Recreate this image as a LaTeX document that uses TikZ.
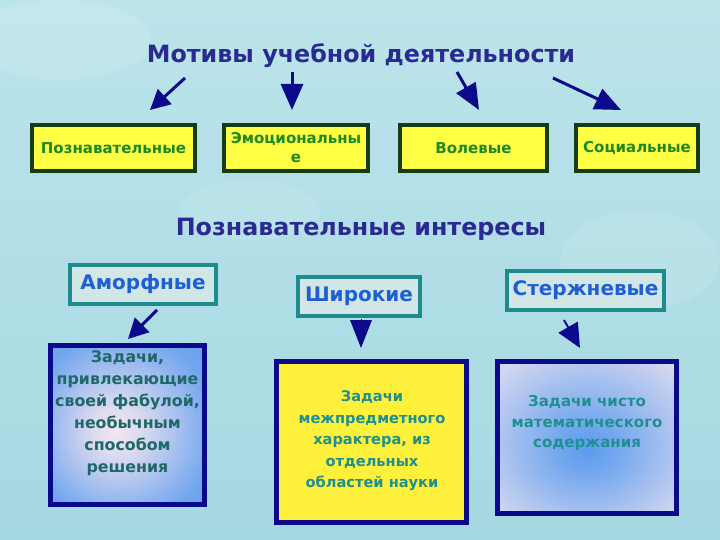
\documentclass[tikz,border=0pt]{standalone}
\usepackage{fontspec}
\setmainfont{DejaVu Sans}
\usetikzlibrary{arrows.meta}
\definecolor{bgc}{HTML}{A6D8E1}
\definecolor{bgl}{HTML}{BCE4EB}
\definecolor{navy}{HTML}{0A0A8A}
\definecolor{titlec}{HTML}{2A2A92}
\definecolor{yel}{HTML}{FFFF44}
\definecolor{yel2}{HTML}{FFF03C}
\definecolor{dgreen}{HTML}{163C16}
\definecolor{tgreen}{HTML}{1E8A1E}
\definecolor{tealb}{HTML}{1E8C8C}
\definecolor{tealfill}{HTML}{D2E6E5}
\definecolor{lblue}{HTML}{1E5FD6}
\definecolor{dteal}{HTML}{1F6868}
\definecolor{mteal}{HTML}{1E9090}
\definecolor{skyb}{HTML}{5C9BEE}
\definecolor{pinkw}{HTML}{F2E6F0}
\pgfdeclareradialshading{boxone}{\pgfpoint{-4bp}{-2bp}}{color(0bp)=(pinkw); color(8bp)=(pinkw!85!skyb); color(30bp)=(skyb!85!pinkw); color(42bp)=(skyb); color(60bp)=(skyb)}
\pgfdeclareradialshading{boxthree}{\pgfpoint{0bp}{-4bp}}{color(0bp)=(skyb); color(8bp)=(skyb!85!pinkw); color(30bp)=(pinkw!70!skyb); color(42bp)=(pinkw); color(60bp)=(pinkw)}
\tikzset{
  motbox/.style={draw=dgreen, line width=4pt, fill=yel, inner sep=2pt, minimum height=46pt, align=center, text=tgreen, font=\fontsize{15}{19}\selectfont\bfseries},
  intbox/.style={draw=tealb, line width=4pt, fill=tealfill, inner sep=2pt, minimum height=39pt, text=lblue, font=\fontsize{20}{22}\selectfont\bfseries},
  taskbox/.style={draw=navy, line width=5pt, inner sep=2pt},
  tasktext/.style={align=center, inner sep=0pt, font=\bfseries},
  heading/.style={text=titlec, font=\fontsize{23.8}{26}\selectfont\bfseries},
  arr/.style={draw=navy, line width=3pt, -{Triangle[length=20pt,width=20pt]}},
  bigarr/.style={draw=navy, line width=3pt, -{Triangle[length=26pt,width=22pt]}}
}
\begin{document}
\begin{tikzpicture}[x=1pt,y=-1pt]
\useasboundingbox (0,0) rectangle (720,540);
\shade[top color=bgl, bottom color=bgc] (0,0) rectangle (720,540);
\fill[white, opacity=0.12] (60,40) ellipse (90 and 40);
\fill[white, opacity=0.10] (640,260) ellipse (80 and 50);
\fill[white, opacity=0.10] (250,210) ellipse (70 and 30);

\node[heading] (title) at (361,56) {Мотивы учебной деятельности};

\node[motbox, minimum width=163pt] (m1) at (113.5,148) {Познавательные};
\node[motbox, minimum width=144pt, text width=138pt] (m2) at (296,148) {Эмоциональны\\е};
\node[motbox, minimum width=147pt] (m3) at (473.5,148) {Волевые};
\node[motbox, minimum width=122pt] (m4) at (637,148) {Социальные};

\coordinate (a1s) at (185,78); \coordinate (a1e) at (150,110);
\coordinate (a2s) at (292,72); \coordinate (a2e) at (292,110);
\coordinate (a3s) at (457,72); \coordinate (a3e) at (479,110);
\coordinate (a4s) at (553,78); \coordinate (a4e) at (621,110);
\draw[arr] (a1s) -- (a1e);
\draw[bigarr] (a2s) -- (a2e);
\draw[bigarr] (a3s) -- (a3e);
\draw[bigarr] (a4s) -- (a4e);

\node[heading] (interest) at (361,229) {Познавательные интересы};

\node[intbox, minimum width=146pt] (i1) at (143,284) {Аморфные};
\node[intbox, minimum width=122pt] (i2) at (359,296.5) {Широкие};
\node[intbox, minimum width=157pt] (i3) at (585.5,290) {Стержневые};

\node[taskbox, minimum width=154pt, minimum height=159pt, shading=boxone] (t1) at (127.5,425) {};
\node[tasktext, text=dteal, font=\fontsize{15.8}{22}\selectfont\bfseries] (t1text) at (127.5,413) {Задачи,\\привлекающие\\своей фабулой,\\необычным\\способом\\решения};
\node[taskbox, minimum width=190pt, minimum height=161pt, fill=yel2] (t2) at (371.5,442) {};
\node[tasktext, text=mteal, font=\fontsize{14.6}{21.5}\selectfont\bfseries] (t2text) at (372,441) {Задачи\\межпредметного\\характера, из\\отдельных\\областей науки};
\node[taskbox, minimum width=179pt, minimum height=152pt, shading=boxthree] (t3) at (587,437.5) {};
\node[tasktext, text=mteal, font=\fontsize{15}{20.5}\selectfont\bfseries] (t3text) at (587,423) {Задачи чисто\\математического\\содержания};

\coordinate (b1s) at (157,310); \coordinate (b1e) at (128,339);
\coordinate (b2s) at (361,319); \coordinate (b2e) at (361,348);
\coordinate (b3s) at (564,320); \coordinate (b3e) at (580,348);
\draw[arr] (b1s) -- (b1e);
\draw[navy, line width=0pt, -{Triangle[length=28pt,width=22pt]}] (b2s) -- (b2e);
\draw[navy, line width=2pt, -{Triangle[length=24pt,width=22pt]}] (b3s) -- (b3e);
\end{tikzpicture}
\end{document}
